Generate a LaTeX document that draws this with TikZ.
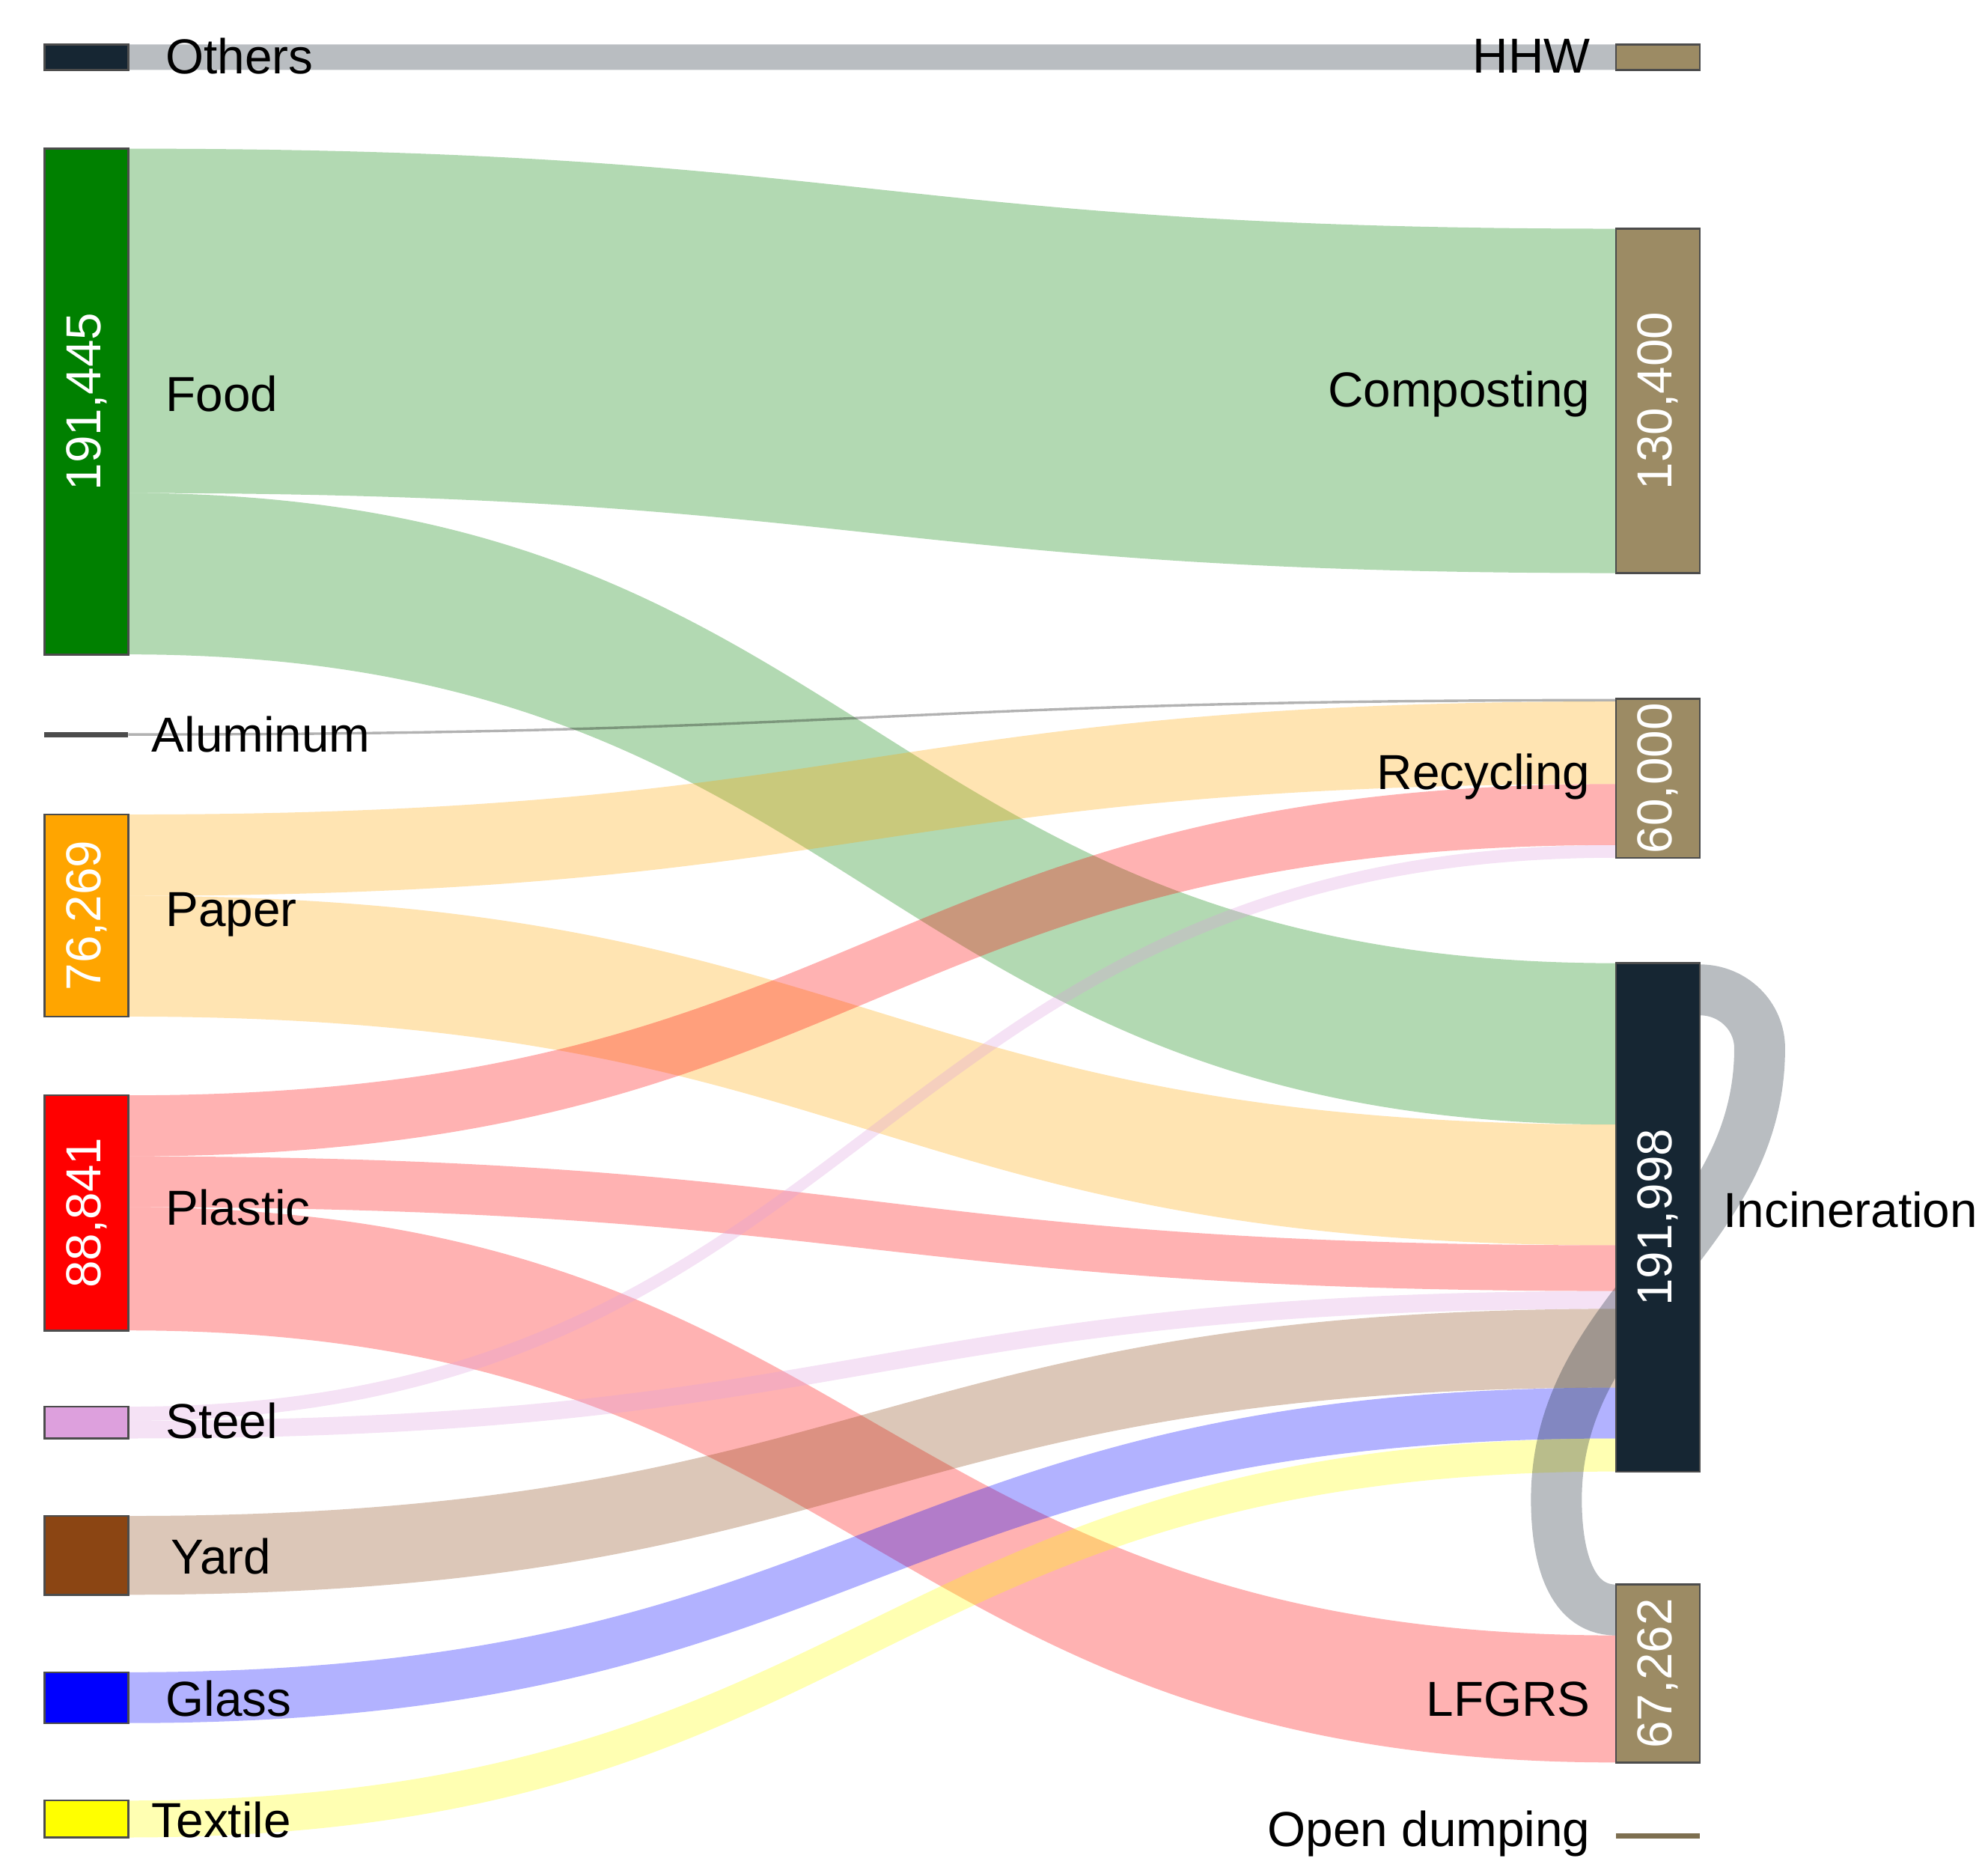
\documentclass[tikz,border=0pt]{standalone}
\usepackage{fontspec}
\setmainfont{Liberation Sans}
\definecolor{navy}{HTML}{162633}
\definecolor{khaki}{HTML}{9C8B64}
\definecolor{foodc}{HTML}{008000}
\definecolor{paperc}{HTML}{FFA500}
\definecolor{plasc}{HTML}{FF0000}
\definecolor{steelc}{HTML}{DDA0DD}
\definecolor{yardc}{HTML}{8B4513}
\definecolor{glassc}{HTML}{0000FF}
\definecolor{textc}{HTML}{FFFF00}
\newcommand{\flow}[5]{% colour, left top, left bottom, right top, right bottom
  \fill[#1,fill opacity=0.3] (101,#2) .. controls (686,#2) and (686,#4) .. (1272,#4)
    -- (1272,#5) .. controls (686,#5) and (686,#3) .. (101,#3) -- cycle;}
\begin{document}
\begin{tikzpicture}[x=0.01cm,y=-0.01cm,font=\fontsize{11}{13}\selectfont]
	\tikzstyle{bar}=[draw=black!70,line width=0.4pt]
	\tikzstyle{num}=[text=white,rotate=90]
	\useasboundingbox (0,0) rectangle (1560,1476);
	% flows
	\flow{navy}{35}{55}{35}{55}
	\flow{foodc}{117}{388}{180}{451}
	\flow{foodc}{388}{515}{758}{885}
	\flow{black}{577}{579}{550}{552}
	\flow{paperc}{641}{705}{552}{617}
	\flow{paperc}{705}{800}{885}{980}
	\flow{plasc}{862}{910}{617}{665}
	\flow{plasc}{910}{950}{980}{1016}
	\flow{plasc}{950}{1047}{1287}{1387}
	\flow{steelc}{1107}{1118}{665}{675}
	\flow{steelc}{1118}{1132}{1016}{1030}
	\flow{yardc}{1193}{1255}{1030}{1092}
	\flow{glassc}{1316}{1356}{1092}{1132}
	\flow{textc}{1417}{1446}{1132}{1158}
	% left nodes
	\node[bar,fill=navy,minimum width=0.66cm,minimum height=0.2cm,inner sep=0pt] (others) at (68,45) {};
	\node[bar,fill=foodc,minimum width=0.66cm,minimum height=3.98cm,inner sep=0pt] (food) at (68,316) {};
	\node[bar,fill=paperc,minimum width=0.66cm,minimum height=1.59cm,inner sep=0pt] (paper) at (68,720.5) {};
	\node[bar,fill=plasc,minimum width=0.66cm,minimum height=1.85cm,inner sep=0pt] (plastic) at (68,954.5) {};
	\node[bar,fill=steelc,minimum width=0.66cm,minimum height=0.25cm,inner sep=0pt] (steel) at (68,1119.5) {};
	\node[bar,fill=yardc,minimum width=0.66cm,minimum height=0.62cm,inner sep=0pt] (yard) at (68,1224) {};
	\node[bar,fill=glassc,minimum width=0.66cm,minimum height=0.4cm,inner sep=0pt] (glass) at (68,1336) {};
	\node[bar,fill=textc,minimum width=0.66cm,minimum height=0.29cm,inner sep=0pt] (textile) at (68,1431.5) {};
	\coordinate (alu1) at (35,578);
	\coordinate (alu2) at (101,578);
	\draw[black!70,line width=1.2pt] (alu1) -- (alu2);
	% loop
	\coordinate (loopa) at (1338,779);
	\coordinate (loopb) at (1272,1267);
	\draw[navy,opacity=0.3,line width=0.4cm] (loopa) to[out=0,in=90] (1385,825) to[out=-90,in=90] (1225,1180) to[out=-90,in=180] (loopb);
	% right nodes
	\node[bar,fill=khaki,minimum width=0.66cm,minimum height=0.2cm,inner sep=0pt] (hhw) at (1305,45) {};
	\node[bar,fill=khaki,minimum width=0.66cm,minimum height=2.71cm,inner sep=0pt] (comp) at (1305,315.5) {};
	\node[bar,fill=khaki,minimum width=0.66cm,minimum height=1.25cm,inner sep=0pt] (recy) at (1305,612.5) {};
	\node[bar,fill=navy,minimum width=0.66cm,minimum height=4cm,inner sep=0pt] (inc) at (1305,958) {};
	\node[bar,fill=khaki,minimum width=0.66cm,minimum height=1.4cm,inner sep=0pt] (lfgrs) at (1305,1317) {};
	\coordinate (od1) at (1272,1445);
	\coordinate (od2) at (1338,1445);
	\draw[khaki!80!black,line width=1.2pt] (od1) -- (od2);
	% numbers
	\node[num] at (food) {191,445};
	\node[num] at (paper) {76,269};
	\node[num] at (plastic) {88,841};
	\node[num] at (comp) {130,400};
	\node[num] at (recy) {60,000};
	\node[num] at (inc) {191,998};
	\node[num] at (lfgrs) {67,262};
	% labels
	\node[anchor=west] at (118,44) {Others};
	\node[anchor=west] at (118,310) {Food};
	\node[anchor=west] at (107,578) {Aluminum};
	\node[anchor=west] at (118,720) {Paper};
	\node[anchor=west] at (118,950) {Plastic};
	\node[anchor=west] at (118,1118) {Steel};
	\node[anchor=west] at (122,1225) {Yard};
	\node[anchor=west] at (118,1337) {Glass};
	\node[anchor=west] at (107,1432) {Textile};
	\node[anchor=east] at (1264,44) {HHW};
	\node[anchor=east] at (1264,310) {Composting};
	\node[anchor=east] at (1264,611) {Recycling};
	\node[anchor=east] at (1264,1337) {LFGRS};
	\node[anchor=east] at (1264,1443) {Open dumping};
	\node[anchor=west] at (1344,952) {Incineration};
\end{tikzpicture}
\end{document}
